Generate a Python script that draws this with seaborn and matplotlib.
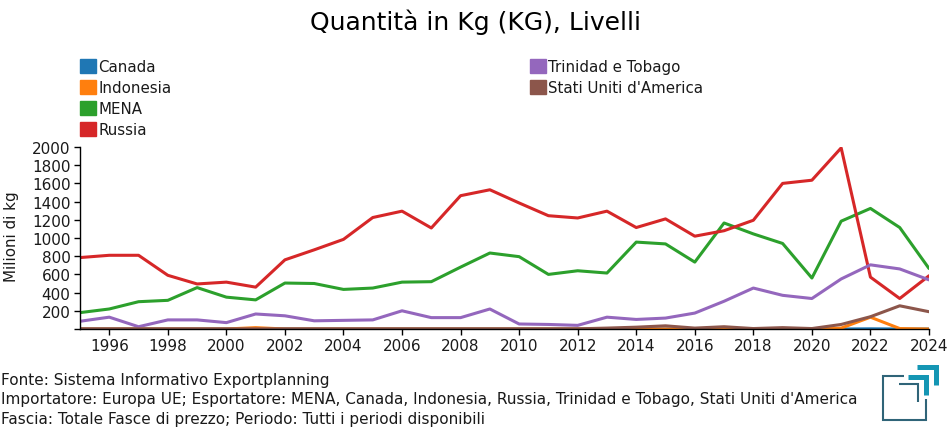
import pandas as pd
import matplotlib
matplotlib.use("Agg")
import matplotlib.pyplot as plt
from matplotlib.lines import Line2D
from matplotlib.patches import Patch
import seaborn as sns

years = list(range(1995, 2025))
canada = [0] * 27 + [2, 0, 0]
indonesia = [0, 0, 0, 0, 0, 0, 15, 0, 0, 0, 0, 0, 0, 0, 0, 0, 0, 0, 0, 0, 0, 0, 0, 0, 0, 0, 10, 130, 5, 0]
mena = [180, 220, 300, 315, 455, 350, 320, 505, 500, 435, 450, 515, 520, 680, 835, 795, 600, 640, 615, 955,
        935, 735, 1165, 1045, 940, 560, 1185, 1325, 1115, 665]
russia = [785, 810, 810, 590, 495, 515, 460, 760, 870, 985, 1225, 1295, 1110, 1465, 1530, 1385, 1245, 1220, 1295, 1115,
          1210, 1020, 1080, 1195, 1600, 1635, 1990, 570, 335, 585]
trinidad = [85, 130, 25, 100, 100, 70, 165, 145, 90, 95, 100, 200, 125, 125, 220, 55, 50, 40, 130, 105,
            120, 175, 305, 450, 370, 335, 550, 705, 660, 540]
usa = [2, 2, 2, 2, 2, 2, 2, 2, 2, 2, 2, 2, 2, 2, 2, 2, 2, 2, 10, 20,
       35, 10, 25, 5, 15, 5, 50, 135, 255, 190]

series_names = ["Canada", "Indonesia", "MENA", "Russia", "Trinidad e Tobago", "Stati Uniti d'America"]
colors = ["#1f77b4", "#ff7f0e", "#2ca02c", "#d62728", "#9467bd", "#8c564b"]
footer = [
    "Fonte: Sistema Informativo Exportplanning",
    "Importatore: Europa UE; Esportatore: MENA, Canada, Indonesia, Russia, Trinidad e Tobago, Stati Uniti d'America",
    "Fascia: Totale Fasce di prezzo; Periodo: Tutti i periodi disponibili",
]

df = pd.DataFrame({"Anno": years, "Canada": canada, "Indonesia": indonesia, "MENA": mena, "Russia": russia,
                   "Trinidad e Tobago": trinidad, "Stati Uniti d'America": usa})
long_df = df.melt(id_vars="Anno", var_name="Paese", value_name="Valore")

sns.set_style("white")
plt.rcParams["font.family"] = ["DejaVu Sans"]
W, H = 950, 435
fig = plt.figure(figsize=(W / 100, H / 100), dpi=100)
ax = fig.add_axes([80 / W, 1 - 330 / H, 849 / W, 182 / H])

sns.lineplot(data=long_df, x="Anno", y="Valore", hue="Paese", hue_order=series_names, palette=colors,
             linewidth=2.2, legend=False, ax=ax, errorbar=None)

ax.set_xlim(1995, 2024)
ax.set_ylim(0, 2000)
ax.set_xticks(range(1996, 2025, 2))
ax.set_yticks(range(0, 2001, 200))
ax.set_yticklabels([""] + [str(v) for v in range(200, 2001, 200)])
ax.tick_params(axis="both", length=4.3, width=1, labelsize=11, left=True, bottom=True, color="black",
               labelcolor="#1a1a1a", pad=2.5)
ax.set_xlabel("")
ax.set_ylabel("Milioni di kg", fontsize=10.9, color="#1a1a1a")
ax.yaxis.set_label_coords((19 - 80) / 849, (330 - 237) / 182)
sns.despine(ax=ax)
for s in ["left", "bottom"]:
    ax.spines[s].set_color("black")
    ax.spines[s].set_linewidth(1)

fig.text(475 / W, 1 - 22 / H, "Quantità in Kg (KG), Livelli", ha="center", va="center", fontsize=18, color="black")

handles = [Patch(facecolor=c, edgecolor=c, label=n) for c, n in zip(colors, series_names)]
legend_style = dict(loc="upper left", frameon=False, fontsize=10.8, handlelength=1.07, handleheight=1.07,
                    handletextpad=0.15, labelspacing=0.39, borderaxespad=0, borderpad=0, labelcolor="#1a1a1a")
fig.legend(handles=handles[:4], bbox_to_anchor=(80 / W, 1 - 60 / H), **legend_style)
fig.legend(handles=handles[4:], bbox_to_anchor=(530 / W, 1 - 60 / H), **legend_style)

for i, line in enumerate(footer):
    fig.text(1 / W, 1 - (380 + i * 20) / H, line, ha="left", va="center", fontsize=10.97, color="#1a1a1a")


# logo in basso a destra
def logo_line(xs, ys, color, lw):
    fig.add_artist(Line2D([x / W for x in xs], [1 - y / H for y in ys], color=color, linewidth=lw,
                          solid_joinstyle="miter", solid_capstyle="butt"))


logo_line([904, 883, 883, 926, 926], [377, 377, 421, 421, 400], "#2f6478", 1.5)
logo_line([899, 918, 918], [385, 385, 403], "#2f6478", 1.5)
logo_line([908, 926, 926], [377.5, 377.5, 396], "#1496b4", 3.6)
logo_line([917, 935.5, 935.5], [367.5, 367.5, 386], "#1496b4", 3.6)

plt.savefig("out.png", dpi=100)
